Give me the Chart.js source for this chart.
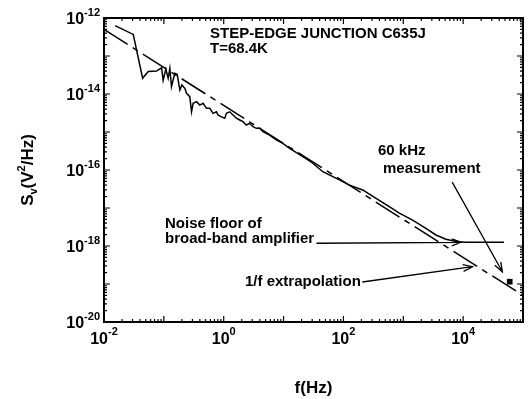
<!DOCTYPE html>
<html>
<head>
<meta charset="utf-8">
<title>Step-edge junction noise spectrum</title>
<script src="https://cdn.jsdelivr.net/npm/chart.js"></script>
<style>
  html, body { margin: 0; padding: 0; background: #fff; }
  canvas { display: block; }
</style>
</head>
<body>
<canvas id="noiseChart" width="529" height="399"></canvas>
<script>
// measured voltage noise spectrum
const freq = [0.0153, 0.0308, 0.0442, 0.0548, 0.0755, 0.0916, 0.0973, 0.108, 0.118, 0.126,
  0.134, 0.152, 0.167, 0.185, 0.2, 0.224, 0.239, 0.271, 0.29, 0.308,
  0.351, 0.398, 0.452, 0.515, 0.585, 0.664, 0.756, 0.804, 0.916, 1.04,
  1.11, 1.26, 1.43, 1.63, 1.85, 2.1, 2.39, 2.71, 3.08, 3.51,
  3.98, 4.52, 5.84, 7.55, 9.73, 12.6, 21, 30.4, 45.2, 85.8,
  126, 210, 351, 584, 858, 1430, 2390, 3510, 5150, 8040,
  11100, 22400, 48200];
const sv = [6.3e-13, 3.7e-13, 2.6e-14, 3.9e-14, 4.0e-14, 4.9e-14, 2.3e-14, 4.5e-14, 2.6e-14, 4.7e-14,
  1.56e-14, 3.5e-14, 3.3e-14, 1.27e-14, 1.73e-14, 1.41e-14, 1.04e-14, 8.5e-15, 3.4e-15, 5.7e-15,
  6.3e-15, 5.1e-15, 5.7e-15, 4.2e-15, 4.2e-15, 3.1e-15, 3.4e-15, 2.8e-15, 2.5e-15, 2.3e-15,
  3.1e-15, 3.4e-15, 2.8e-15, 2.3e-15, 2.07e-15, 1.87e-15, 1.53e-15, 1.69e-15, 1.38e-15, 1.25e-15,
  1.27e-15, 1.02e-15, 8.3e-16, 6.2e-16, 5.0e-16, 3.7e-16, 2.24e-16, 1.53e-16, 9.0e-17, 5.5e-17,
  4.0e-17, 2.98e-17, 1.8e-17, 1.08e-17, 7.3e-18, 4.8e-18, 2.9e-18, 1.95e-18, 1.5e-18, 1.3e-18,
  1.25e-18, 1.25e-18, 1.25e-18];

// 1/f extrapolation (end points)
const fitFreq = [0.01, 1e5];
const fitSv = [5.0e-13, 5.0e-20];

// single point measured at 60 kHz
const measFreq = [6e4];
const measSv = [1.15e-19];

// axis decades and labelled exponents
const xDecades = [-2, -1, 0, 1, 2, 3, 4];
const xLabelExp = [-2, 0, 2, 4];
const yDecades = [-20, -19, -18, -17, -16, -15, -14, -13];
const yLabelExp = [-12, -14, -16, -18, -20];

// annotation arrows, tail -> head in data units
const arrowFrom = [[6560, 4.8e-17], [35.5, 1.18e-18], [207, 1.13e-19]];
const arrowTo = [[45200, 2.1e-19], [9260, 1.25e-18], [14300, 2.85e-19]];

const FONT = '"Liberation Sans", Arial, sans-serif';

const toXY = (xs, ys) => xs.map((x, i) => ({ x: x, y: ys[i] }));

const decorations = {
  id: 'decorations',
  afterDraw(chart) {
    const ctx = chart.ctx;
    const xs = chart.scales.x, ys = chart.scales.y;
    const a = chart.chartArea;
    ctx.save();
    ctx.strokeStyle = '#000';
    ctx.fillStyle = '#000';

    // frame
    ctx.lineWidth = 2;
    ctx.strokeRect(a.left, a.top, a.right - a.left, a.bottom - a.top);

    // ticks on all four sides, pointing in
    ctx.lineWidth = 1.2;
    ctx.beginPath();
    xDecades.forEach(d => {
      for (let m = 1; m <= 9; m++) {
        const px = xs.getPixelForValue(m * Math.pow(10, d));
        const len = m === 1 ? 6 : 3;
        ctx.moveTo(px, a.bottom); ctx.lineTo(px, a.bottom - len);
        ctx.moveTo(px, a.top); ctx.lineTo(px, a.top + len);
      }
    });
    yDecades.forEach(d => {
      for (let m = 1; m <= 9; m++) {
        const py = ys.getPixelForValue(m * Math.pow(10, d));
        const len = m === 1 ? 6 : 3;
        ctx.moveTo(a.left, py); ctx.lineTo(a.left + len, py);
        ctx.moveTo(a.right, py); ctx.lineTo(a.right - len, py);
      }
    });
    ctx.stroke();

    // tick labels 10^n
    const big = 'bold 16px ' + FONT, small = 'bold 11px ' + FONT;
    ctx.textAlign = 'left';
    ctx.textBaseline = 'alphabetic';
    xLabelExp.forEach(e => {
      const px = xs.getPixelForValue(Math.pow(10, e));
      ctx.font = big; const w1 = ctx.measureText('10').width;
      ctx.font = small; const w2 = ctx.measureText(String(e)).width;
      const x0 = px - (w1 + w2) / 2;
      ctx.font = big; ctx.fillText('10', x0, a.bottom + 22);
      ctx.font = small; ctx.fillText(String(e), x0 + w1, a.bottom + 13);
    });
    yLabelExp.forEach(e => {
      const py = ys.getPixelForValue(Math.pow(10, e));
      ctx.font = big; const w1 = ctx.measureText('10').width;
      ctx.font = small; const w2 = ctx.measureText(String(e)).width;
      const x0 = a.left - 4 - w1 - w2;
      ctx.font = big; ctx.fillText('10', x0, py + 6);
      ctx.font = small; ctx.fillText(String(e), x0 + w1, py - 2);
    });

    // axis titles
    ctx.font = 'bold 17px ' + FONT;
    ctx.textAlign = 'center';
    ctx.fillText('f(Hz)', (a.left + a.right) / 2, 393);

    const parts = [['S', 17, 0], ['v', 11, 4], ['(V', 17, 0], ['2', 11, -8], ['/Hz)', 17, 0]];
    ctx.save();
    ctx.translate(33, (a.top + a.bottom) / 2);
    ctx.rotate(-Math.PI / 2);
    ctx.textAlign = 'left';
    let total = 0;
    parts.forEach(p => { ctx.font = 'bold ' + p[1] + 'px ' + FONT; total += ctx.measureText(p[0]).width; });
    let cx = -total / 2;
    parts.forEach(p => {
      ctx.font = 'bold ' + p[1] + 'px ' + FONT;
      ctx.fillText(p[0], cx, p[2]);
      cx += ctx.measureText(p[0]).width;
    });
    ctx.restore();

    // text annotations
    ctx.font = 'bold 15px ' + FONT;
    ctx.textAlign = 'left';
    ctx.fillText('STEP-EDGE JUNCTION C635J', 210, 38);
    ctx.fillText('T=68.4K', 210, 53);
    ctx.fillText('60 kHz', 378, 155);
    ctx.fillText('measurement', 383, 173);
    ctx.fillText('Noise floor of', 165, 228);
    ctx.fillText('broad-band amplifier', 165, 243);
    ctx.fillText('1/f extrapolation', 245, 286);

    // arrows
    ctx.lineWidth = 1.3;
    arrowFrom.forEach((f, i) => {
      const x1 = xs.getPixelForValue(f[0]), y1 = ys.getPixelForValue(f[1]);
      const x2 = xs.getPixelForValue(arrowTo[i][0]), y2 = ys.getPixelForValue(arrowTo[i][1]);
      const ang = Math.atan2(y2 - y1, x2 - x1);
      const h = 10, spread = 0.35;
      ctx.beginPath();
      ctx.moveTo(x1, y1); ctx.lineTo(x2, y2);
      ctx.moveTo(x2 - h * Math.cos(ang - spread), y2 - h * Math.sin(ang - spread));
      ctx.lineTo(x2, y2);
      ctx.lineTo(x2 - h * Math.cos(ang + spread), y2 - h * Math.sin(ang + spread));
      ctx.stroke();
    });
    ctx.restore();
  }
};

new Chart(document.getElementById('noiseChart').getContext('2d'), {
  type: 'line',
  data: {
    datasets: [
      {
        label: 'measured',
        data: toXY(freq, sv),
        borderColor: '#000',
        borderWidth: 1.5,
        pointRadius: 0,
        tension: 0,
        fill: false
      },
      {
        label: '1/f extrapolation',
        data: toXY(fitFreq, fitSv),
        borderColor: '#000',
        borderWidth: 1.5,
        borderDash: [28, 6, 6, 6],
        pointRadius: 0,
        fill: false
      },
      {
        label: '60 kHz measurement',
        data: toXY(measFreq, measSv),
        showLine: false,
        pointStyle: 'rect',
        pointRadius: 4,
        backgroundColor: '#000',
        borderColor: '#000',
        borderWidth: 0
      }
    ]
  },
  options: {
    responsive: false,
    devicePixelRatio: 1,
    animation: false,
    layout: { padding: { left: 104, top: 18, right: 6, bottom: 77 } },
    plugins: {
      legend: { display: false },
      tooltip: { enabled: false },
      title: { display: false }
    },
    scales: {
      x: { type: 'logarithmic', min: 0.01, max: 1e5, display: false },
      y: { type: 'logarithmic', min: 1e-20, max: 1e-12, display: false }
    }
  },
  plugins: [decorations]
});
</script>
</body>
</html>
